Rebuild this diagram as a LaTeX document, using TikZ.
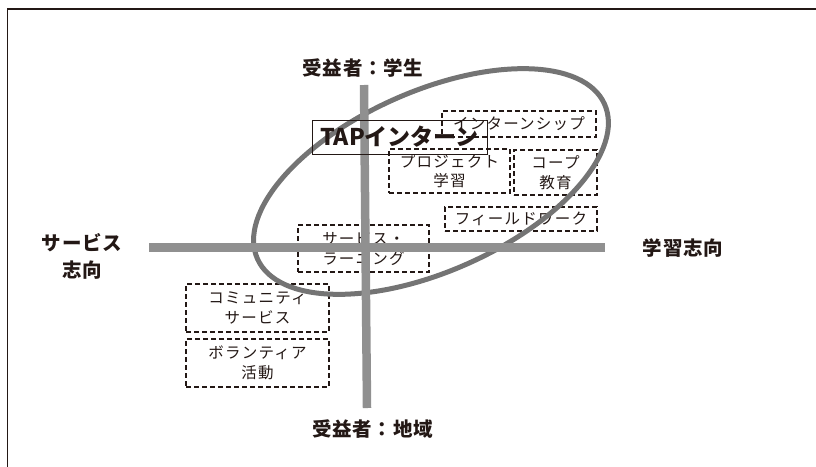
\documentclass[tikz,border=0pt]{standalone}
\usepackage{fontspec}
\setmainfont{Noto Sans CJK JP}
\newfontfamily\boxfont[LetterSpace=8]{Noto Sans CJK JP}
\newfontfamily\labfont[LetterSpace=4]{Noto Sans CJK JP}
\definecolor{ink}{HTML}{231815}
\definecolor{axisgray}{HTML}{909090}
\definecolor{ringgray}{HTML}{747474}
\begin{document}
\begin{tikzpicture}[x=1pt,y=-1pt,
  dbox/.style={draw=ink, line width=1.1pt, dash pattern=on 5pt off 3pt, inner sep=0pt,
    align=center, text=ink, font=\boxfont\fontsize{15.5}{19.5}\selectfont},
  tapbox/.style={draw=ink, line width=1pt, inner sep=0pt, text=ink,
    font=\bfseries\fontsize{23}{26}\selectfont},
  axlabel/.style={text=ink, align=center, inner sep=0pt, font=\labfont\bfseries\fontsize{19.5}{27}\selectfont},
  axisline/.style={draw=axisgray, line width=8.5pt},
  ring/.style={draw=ringgray, line width=5pt}]
\useasboundingbox (0,0) rectangle (816,466);
% frame
\coordinate (fTL) at (7.5,9);
\coordinate (fTR) at (820,9);
\coordinate (fBL) at (7.5,470);
\draw[ink, line width=1.3pt] (fBL) -- (fTL) -- (fTR);
% boxes
\node[dbox, minimum width=154pt, minimum height=26pt] (intern) at (519,124) {インターンシップ};
\node[dbox, minimum width=121pt, minimum height=44pt] (proj) at (449.5,171) {プロジェクト\\学習};
\node[dbox, minimum width=83pt, minimum height=45pt] (coop) at (555.5,172.5) {コープ\\教育};
\node[dbox, minimum width=152pt, minimum height=24pt] (field) at (521,219) {フィールドワーク};
\node[dbox, minimum width=131pt, minimum height=47pt] (sl) at (363.5,248.5) {サービス・\\ラーニング};
\node[dbox, minimum width=143pt, minimum height=48pt] (comm) at (257.5,308) {コミュニティ\\サービス};
\node[dbox, minimum width=143pt, minimum height=48pt] (vol) at (257.5,363) {ボランティア\\活動};
% ellipse
\coordinate (ringc) at (431,181.5);
\draw[ring, rotate around={24:(ringc)}] (ringc) ellipse [x radius=190pt, y radius=90pt];
% axes
\coordinate (hL) at (149,247.5);
\coordinate (hR) at (605,247.5);
\coordinate (vT) at (364,85);
\coordinate (vB) at (367,408);
\draw[axisline] (hL) -- (hR);
\draw[axisline] (vT) -- (vB);
% TAP box
\node[tapbox, minimum width=175pt, minimum height=34pt] (tap) at (399.5,137) {TAPインターン};
% axis labels
\node[axlabel] (top) at (363,68) {受益者：学生};
\node[axlabel] (bottom) at (372.5,429) {受益者：地域};
\node[axlabel] (left) at (82,256.5) {サービス\\志向};
\node[axlabel] (right) at (683,248) {学習志向};
\end{tikzpicture}
\end{document}
